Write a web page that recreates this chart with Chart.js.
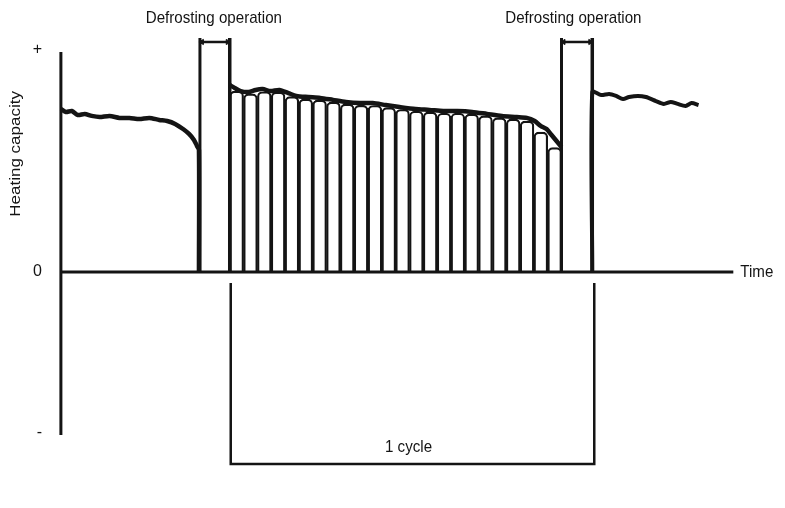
<!DOCTYPE html>
<html>
<head>
<meta charset="utf-8">
<script src="https://cdn.jsdelivr.net/npm/chart.js@4"></script>
<style>
  html, body { margin: 0; padding: 0; background: #fff; }
  #wrap { width: 785px; height: 508px; }
</style>
</head>
<body>
<div id="wrap"><canvas id="chart"></canvas></div>
<script>
// Time runs from the vertical axis; heating capacity: "+" = 100, "0" = 0, "-" = -72.5

// Heating before the first defrost
const leftTime = [0, 5, 11, 17, 24, 31, 39, 49, 59, 69, 79, 89, 99, 107, 115, 123, 129, 134, 137, 139, 139];
const leftCap  = [73.4, 72.1, 72.5, 70.7, 71.2, 70.3, 69.8, 70.3, 69.4, 69.4, 68.9, 69.4, 68.5, 68.0, 66.7, 64.4, 62.2, 59.5, 56.8, 55.0, 0];

// Heating between the two defrosts (envelope of the bars)
const midTime = [170, 175, 181, 189, 196, 203, 211, 220, 229, 237, 249, 261, 274, 287, 301, 314, 327, 341, 357, 371, 385, 399, 414, 429, 444, 459, 469, 477, 483, 489, 494, 499, 504];
const midCap  = [84.2, 82.9, 81.5, 81.1, 82.0, 82.4, 81.5, 82.0, 80.6, 79.3, 78.8, 78.4, 77.5, 76.6, 76.1, 76.1, 75.2, 74.3, 73.4, 73.0, 72.5, 72.5, 72.1, 71.2, 70.3, 69.8, 69.4, 68.0, 65.8, 64.4, 61.7, 59.0, 56.3];

// Bars inside the cycle
const barTime = [177.0, 190.9, 204.8, 218.7, 232.6, 246.6, 260.5, 274.4, 288.3, 302.2, 316.2, 330.1, 344.0, 357.9, 371.8, 385.8, 399.7, 413.6, 427.5, 441.4, 455.4, 469.3, 483.2, 497.1];
const barCap  = [81.5, 80.2, 81.2, 81.0, 79.0, 77.9, 77.4, 76.5, 75.6, 75.1, 75.0, 74.0, 73.2, 72.4, 72.0, 71.5, 71.5, 71.1, 70.3, 69.4, 68.9, 68.0, 63.0, 56.0];

// Heating after the second defrost
const rightTime = [535, 535, 544, 552, 559, 566, 572, 581, 589, 599, 607, 614, 621, 629, 635, 642];
const rightCap  = [0, 81.1, 79.7, 80.2, 79.3, 77.9, 78.8, 79.3, 78.8, 77.0, 75.7, 76.6, 75.7, 74.8, 76.1, 75.2];

// Defrosting operations
const defrostStart = [140, 504];
const defrostEnd   = [170, 535];
const defrostTop   = 105.4;
const defrostMark  = 103.6;

// Axes
const axisTime = [0, 0];
const axisCap  = [-73.4, 99.1];
const zeroTime = [0, 677];
const yTickValues = [-72.5, 0, 100];
const yTickLabels = ['-', '0', '+'];

// 1 cycle bracket
const cycleTime = [171, 171, 537, 537];
const cycleCap  = [-5, -86.5, -86.5, -5];

// Texts
const noteText  = ['Defrosting operation', 'Defrosting operation', 'Heating capacity', 'Time', '1 cycle'];
const noteTime  = [154, 516, -45, 684, 350];
const noteCap   = [114.4, 114.4, 53.2, 0, -78.8];
const noteAlign = ['center', 'center', 'center', 'left', 'center'];
const noteAngle = [0, 0, -90, 0, 0];

const ink = '#141414';
const family = '"Liberation Sans", Arial, Helvetica, sans-serif';
const pts = (xs, ys) => xs.map((x, i) => ({ x: x, y: ys[i] }));

function line(data, width, tension) {
    return {
        type: 'line',
        data: data,
        borderColor: ink,
        borderWidth: width,
        tension: tension || 0,
        pointRadius: 0,
        clip: false,
        order: 0
    };
}

let datasets = [
    line(pts(leftTime, leftCap), 4.5, 0.25),
    line(pts(midTime, midCap), 4.5, 0.25),
    line(pts(rightTime, rightCap), 4, 0.25),
    line(pts(axisTime, axisCap), 3),
    line(pts(zeroTime, [0, 0]), 3),
    line(pts(cycleTime, cycleCap), 2.5)
];

// Defrost boxes: two sides and the marked top
for (let i = 0; i < defrostStart.length; i++) {
    datasets.push(line([{ x: defrostStart[i], y: 0 }, { x: defrostStart[i], y: defrostTop }], 3));
    datasets.push(line([{ x: defrostEnd[i], y: 0 }, { x: defrostEnd[i], y: defrostTop }], 3.5));
    let top = line([{ x: defrostStart[i] + 2, y: defrostMark }, { x: defrostEnd[i] - 2, y: defrostMark }], 2.5);
    top.pointRadius = 3;
    top.pointStyle = 'triangle';
    top.pointRotation = [-90, 90];
    top.pointBackgroundColor = ink;
    top.pointBorderColor = ink;
    top.pointBorderWidth = 1;
    datasets.push(top);
}

datasets.push({
    type: 'bar',
    data: pts(barTime, barCap),
    backgroundColor: '#fff',
    borderColor: ink,
    borderWidth: 2.2,
    borderRadius: { topLeft: 5, topRight: 5, bottomLeft: 0, bottomRight: 0 },
    barPercentage: 1,
    categoryPercentage: 1,
    clip: false,
    order: 10
});

// Free texts placed on the chart scales
const notes = {
    id: 'notes',
    afterDraw(chart) {
        const { ctx, scales: { x, y } } = chart;
        ctx.save();
        ctx.fillStyle = ink;
        ctx.font = '17px ' + family;
        ctx.textBaseline = 'middle';
        noteText.forEach((txt, i) => {
            ctx.save();
            ctx.translate(x.getPixelForValue(noteTime[i]), y.getPixelForValue(noteCap[i]));
            ctx.textAlign = noteAlign[i];
            if (noteAngle[i]) {
                ctx.rotate(noteAngle[i] * Math.PI / 180);
                ctx.scale(1, 0.89);
            } else {
                ctx.scale(0.89, 1);
            }
            ctx.fillText(txt, 0, 0);
            ctx.restore();
        });
        ctx.restore();
    }
};

new Chart(document.getElementById('chart'), {
    type: 'bar',
    data: { datasets: datasets },
    options: {
        responsive: true,
        maintainAspectRatio: false,
        animation: false,
        layout: { padding: { left: 0, right: 0, top: 30, bottom: 30 } },
        plugins: {
            legend: { display: false },
            tooltip: { enabled: false }
        },
        scales: {
            x: {
                type: 'linear',
                min: -16,
                max: 724,
                offset: false,
                display: false,
                ticks: { display: false },
                grid: { display: false }
            },
            y: {
                min: -92.8,
                max: 109,
                afterFit: s => { s.width = 45; },
                afterBuildTicks: s => { s.ticks = yTickValues.map(v => ({ value: v })); },
                ticks: {
                    padding: 3,
                    color: ink,
                    font: { size: 16, family: family },
                    callback: (v, i) => yTickLabels[i]
                },
                grid: { display: false, drawTicks: false },
                border: { display: false }
            }
        }
    },
    plugins: [notes]
});
</script>
</body>
</html>
